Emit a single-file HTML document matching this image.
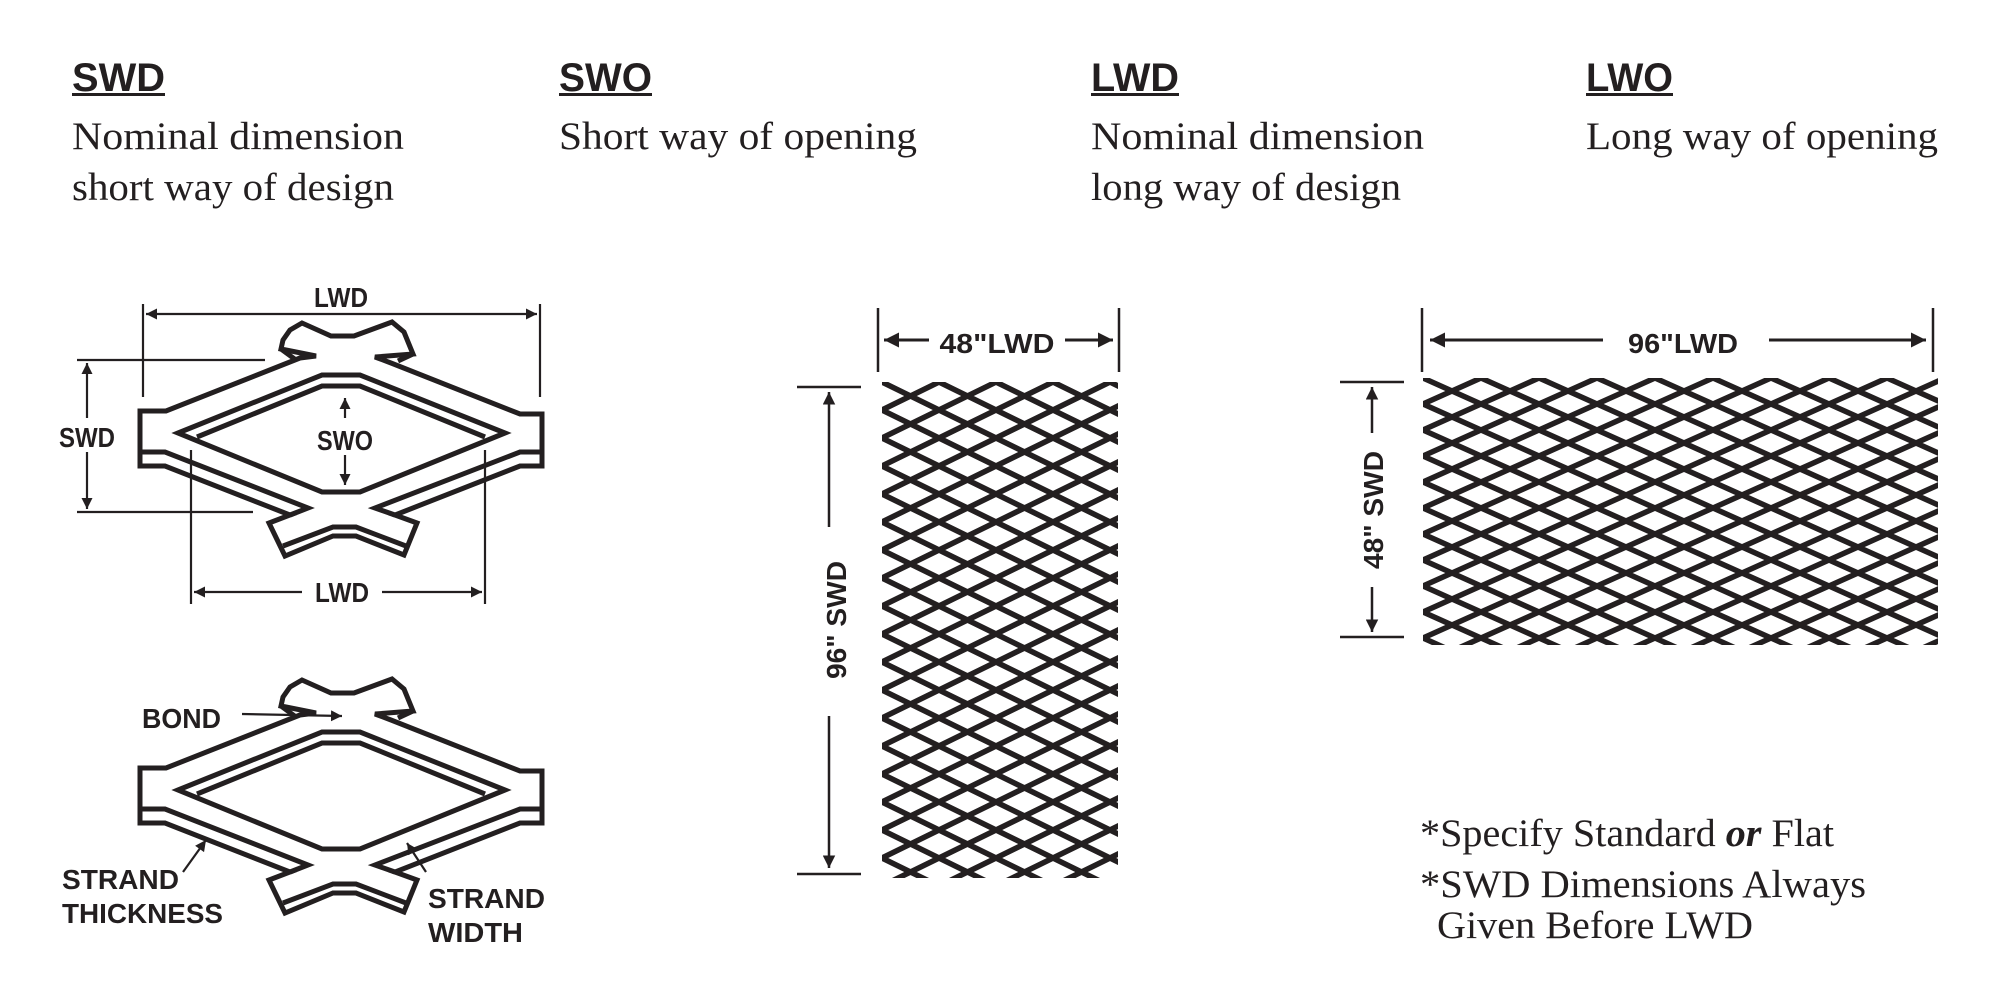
<!DOCTYPE html>
<html><head><meta charset="utf-8"><style>
html,body{margin:0;padding:0;background:#fff;}
svg{display:block;}
.h{font-family:"Liberation Sans",sans-serif;font-weight:bold;font-size:40px;fill:#231f20;}
.s{font-family:"Liberation Serif",serif;font-size:39px;fill:#231f20;}
.l{font-family:"Liberation Sans",sans-serif;font-weight:bold;font-size:28px;fill:#231f20;}
</style></head><body>
<svg width="2000" height="1000" viewBox="0 0 2000 1000" xmlns="http://www.w3.org/2000/svg">
<defs>
<pattern id="m1" width="57" height="28" patternUnits="userSpaceOnUse" x="882" y="382">
<path d="M-28.5,-14 L85.5,42 M-28.5,42 L85.5,-14" stroke="#231f20" stroke-width="5.5" fill="none"/>
</pattern>
<pattern id="m2" width="58" height="26" patternUnits="userSpaceOnUse" x="1423" y="378">
<path d="M-29,-13 L87,39 M-29,39 L87,-13" stroke="#231f20" stroke-width="5.5" fill="none"/>
</pattern>
<marker id="ah" viewBox="0 0 10 10" refX="10" refY="5" markerWidth="5" markerHeight="5" orient="auto-start-reverse"><path d="M0,0 L10,5 L0,10 Z" fill="#231f20"/></marker>
<marker id="ab" viewBox="0 0 10 10" refX="10" refY="5" markerWidth="6" markerHeight="5" orient="auto-start-reverse"><path d="M0,0 L10,5 L0,10 Z" fill="#231f20"/></marker>
<g id="shape" fill="none" stroke="#231f20" stroke-width="5" stroke-linejoin="miter">
<path d="M140,411 L166,411 L300,358 L316,356 L281,349 L283,340 L290,330 L302,323 L331,336 L354,336 L392,322 L404,332 L413,354 L375,357 L391,363 L520,414 L542,414 L542,466 L520,466 L395,515 L417,523 L404,555 L356,536 L333,536 L285,556 L269,523 L290,515 L165,466 L140,466 Z"/>
<path d="M140,452 L165,452 L308,508 L290,515 M542,452 L520,452 L375,508 L395,515 M283,546 L333,527 L356,527 L406,546 M281,349 L296,360 M413,354 L398,361"/>
<path d="M178,433 L322,375 L360,375 L505,433 L360,492 L322,492 Z"/>
<path d="M197,437 L322,386 L360,386 L485,437"/>
</g>
</defs>

<g class="h">
<text x="72" y="91" textLength="93" lengthAdjust="spacingAndGlyphs">SWD</text>
<text x="559" y="91" textLength="93" lengthAdjust="spacingAndGlyphs">SWO</text>
<text x="1091" y="91" textLength="88" lengthAdjust="spacingAndGlyphs">LWD</text>
<text x="1586" y="91" textLength="87" lengthAdjust="spacingAndGlyphs">LWO</text>
</g>
<g fill="#231f20">
<rect x="72" y="93" width="93" height="3"/>
<rect x="559" y="93" width="93" height="3"/>
<rect x="1091" y="93" width="88" height="3"/>
<rect x="1586" y="93" width="87" height="3"/>
</g>
<g class="s">
<text x="72" y="149" textLength="332" lengthAdjust="spacingAndGlyphs">Nominal dimension</text>
<text x="72" y="200" textLength="322" lengthAdjust="spacingAndGlyphs">short way of design</text>
<text x="559" y="149" textLength="358" lengthAdjust="spacingAndGlyphs">Short way of opening</text>
<text x="1091" y="149" textLength="333" lengthAdjust="spacingAndGlyphs">Nominal dimension</text>
<text x="1091" y="200" textLength="310" lengthAdjust="spacingAndGlyphs">long way of design</text>
<text x="1586" y="149" textLength="352" lengthAdjust="spacingAndGlyphs">Long way of opening</text>
</g>

<use href="#shape"/>
<g stroke="#231f20" stroke-width="2.2" fill="none">
<line x1="143" y1="304" x2="143" y2="397"/>
<line x1="540" y1="304" x2="540" y2="397"/>
<line x1="146" y1="314" x2="537" y2="314" marker-start="url(#ab)" marker-end="url(#ab)"/>
<line x1="77" y1="360" x2="265" y2="360"/>
<line x1="77" y1="512" x2="253" y2="512"/>
<line x1="87" y1="363" x2="87" y2="418" marker-start="url(#ab)"/>
<line x1="87" y1="452" x2="87" y2="509" marker-end="url(#ab)"/>
<line x1="191" y1="450" x2="191" y2="604"/>
<line x1="485" y1="450" x2="485" y2="604"/>
<line x1="194" y1="592" x2="302" y2="592" marker-start="url(#ab)"/>
<line x1="382" y1="592" x2="482" y2="592" marker-end="url(#ab)"/>
<line x1="345" y1="398" x2="345" y2="418" marker-start="url(#ab)"/>
<line x1="345" y1="455" x2="345" y2="485" marker-end="url(#ab)"/>
</g>
<g class="l" text-anchor="middle">
<text x="341" y="307" textLength="54" lengthAdjust="spacingAndGlyphs">LWD</text>
<text x="87" y="447" textLength="56" lengthAdjust="spacingAndGlyphs">SWD</text>
<text x="345" y="450" textLength="56" lengthAdjust="spacingAndGlyphs">SWO</text>
<text x="342" y="602" textLength="54" lengthAdjust="spacingAndGlyphs">LWD</text>
</g>

<use href="#shape" transform="translate(0,357)"/>
<g stroke="#231f20" stroke-width="2.2" fill="none">
<line x1="242" y1="714" x2="342" y2="716" marker-end="url(#ah)"/>
<line x1="183" y1="872" x2="206" y2="840" marker-end="url(#ab)"/>
<line x1="426" y1="872" x2="407" y2="843" marker-end="url(#ab)"/>
</g>
<g class="l" font-size="31">
<text x="142" y="728" textLength="79" lengthAdjust="spacingAndGlyphs">BOND</text>
<text x="62" y="889" textLength="117" lengthAdjust="spacingAndGlyphs">STRAND</text>
<text x="62" y="923" textLength="161" lengthAdjust="spacingAndGlyphs">THICKNESS</text>
<text x="428" y="908" textLength="117" lengthAdjust="spacingAndGlyphs">STRAND</text>
<text x="428" y="942" textLength="95" lengthAdjust="spacingAndGlyphs">WIDTH</text>
</g>

<rect x="882" y="382" width="236" height="496" fill="url(#m1)"/>
<g stroke="#231f20" stroke-width="2.5" fill="none">
<line x1="878" y1="308" x2="878" y2="372"/>
<line x1="1119" y1="308" x2="1119" y2="372"/>
<line x1="884" y1="340" x2="929" y2="340" stroke-width="3" marker-start="url(#ah)"/>
<line x1="1065" y1="340" x2="1113" y2="340" stroke-width="3" marker-end="url(#ah)"/>
<line x1="797" y1="387" x2="861" y2="387"/>
<line x1="797" y1="874" x2="861" y2="874"/>
<line x1="829" y1="392" x2="829" y2="527" marker-start="url(#ah)"/>
<line x1="829" y1="716" x2="829" y2="868" marker-end="url(#ah)"/>
</g>
<text class="l" font-size="33" x="997" y="353" text-anchor="middle" textLength="115" lengthAdjust="spacingAndGlyphs">48"LWD</text>
<text class="l" font-size="33" text-anchor="middle" transform="translate(846,620) rotate(-90)" textLength="118" lengthAdjust="spacingAndGlyphs">96" SWD</text>

<rect x="1423" y="378" width="515" height="267" fill="url(#m2)"/>
<g stroke="#231f20" stroke-width="2.5" fill="none">
<line x1="1422" y1="308" x2="1422" y2="372"/>
<line x1="1933" y1="308" x2="1933" y2="372"/>
<line x1="1430" y1="340" x2="1603" y2="340" stroke-width="3" marker-start="url(#ah)"/>
<line x1="1769" y1="340" x2="1926" y2="340" stroke-width="3" marker-end="url(#ah)"/>
<line x1="1340" y1="382" x2="1404" y2="382"/>
<line x1="1340" y1="637" x2="1404" y2="637"/>
<line x1="1372" y1="387" x2="1372" y2="433" marker-start="url(#ah)"/>
<line x1="1372" y1="587" x2="1372" y2="632" marker-end="url(#ah)"/>
</g>
<text class="l" font-size="33" x="1683" y="353" text-anchor="middle" textLength="110" lengthAdjust="spacingAndGlyphs">96"LWD</text>
<text class="l" font-size="33" text-anchor="middle" transform="translate(1383,510) rotate(-90)" textLength="118" lengthAdjust="spacingAndGlyphs">48" SWD</text>

<g class="s" font-size="38">
<text x="1420" y="846" textLength="414" lengthAdjust="spacingAndGlyphs">*Specify Standard <tspan font-weight="bold" font-style="italic">or</tspan> Flat</text>
<text x="1420" y="897" textLength="446" lengthAdjust="spacingAndGlyphs">*SWD Dimensions Always</text>
<text x="1437" y="938" textLength="316" lengthAdjust="spacingAndGlyphs">Given Before LWD</text>
</g>
</svg>
</body></html>
